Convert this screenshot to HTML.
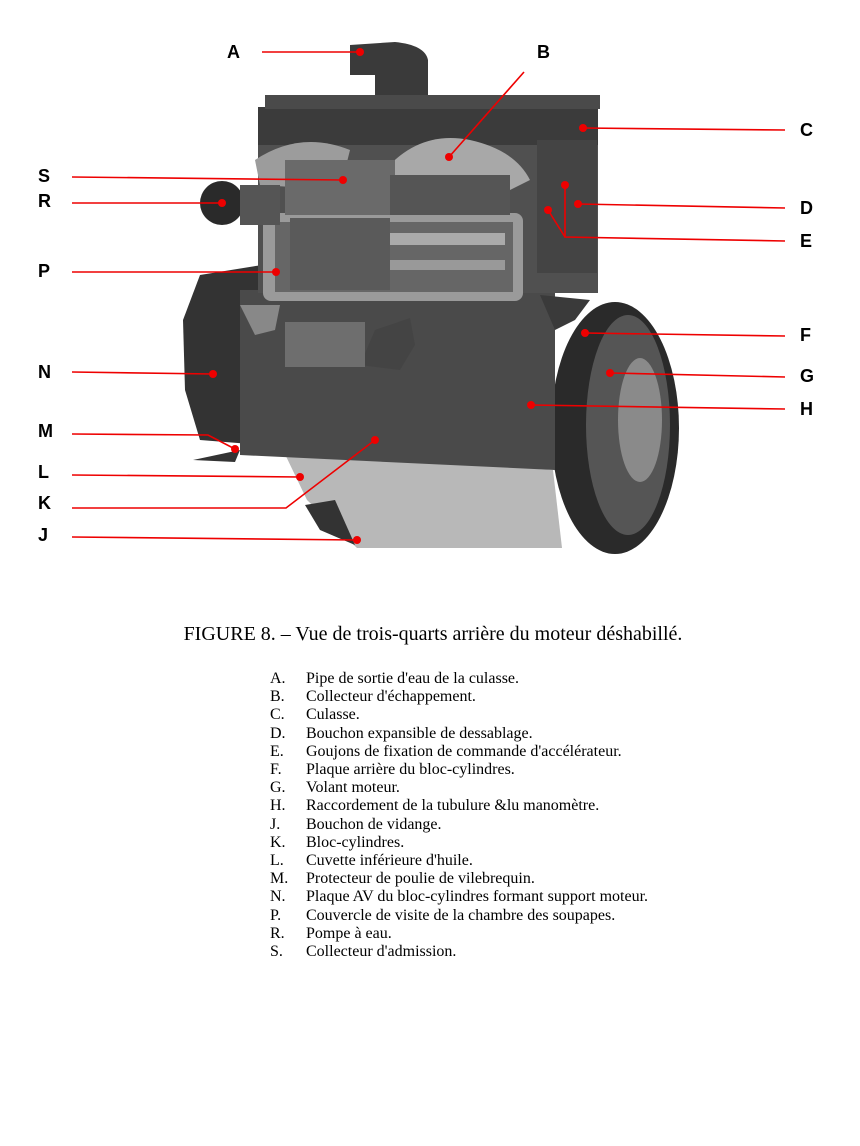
<!DOCTYPE html>
<html><head><meta charset="utf-8"><style>
body{margin:0;background:#fff;width:860px;height:1146px;position:relative;overflow:hidden}
.lbl{position:absolute;font:bold 18px "Liberation Sans",sans-serif;color:#000}
.cap{position:absolute;left:0;width:866px;top:623px;text-align:center;font:20px "Liberation Serif",serif;white-space:nowrap}
.leg{position:absolute;left:270px;top:670px;font:16px/18.2px "Liberation Serif",serif}
.leg div{white-space:nowrap}.leg span{display:inline-block;width:36px}
svg{position:absolute;left:0;top:0}
</style></head><body>
<svg width="860" height="1146">
<ellipse cx="615" cy="428" rx="64" ry="126" fill="#2a2a2a"/>
<ellipse cx="628" cy="425" rx="42" ry="110" fill="#555"/>
<ellipse cx="640" cy="420" rx="22" ry="62" fill="#8a8a8a"/>
<polygon points="283,450 553,470 562,548 357,548 307,500" fill="#b8b8b8"/>
<polygon points="183,320 200,275 262,265 262,445 200,440 185,390" fill="#333"/>
<polygon points="240,290 555,290 555,470 240,455" fill="#4a4a4a"/>
<polygon points="540,295 590,300 575,320 555,330" fill="#3a3a3a"/>
<rect x="258" y="107" width="340" height="45" fill="#3b3b3b"/>
<rect x="258" y="145" width="340" height="148" fill="#505050"/>
<rect x="537" y="140" width="60" height="133" fill="#444"/>
<rect x="263" y="213" width="260" height="88" rx="8" fill="#9a9a9a"/>
<rect x="275" y="222" width="238" height="70" fill="#666"/>
<rect x="380" y="233" width="125" height="12" fill="#aaa"/>
<rect x="380" y="260" width="125" height="10" fill="#999"/>
<rect x="290" y="218" width="100" height="72" fill="#5a5a5a"/>
<path d="M255,160 Q300,130 350,150 L340,190 L260,185 Z" fill="#9c9c9c"/>
<path d="M385,170 Q420,130 470,140 Q515,150 530,180 L500,195 L400,200 Z" fill="#a8a8a8"/>
<rect x="285" y="160" width="110" height="55" fill="#6a6a6a"/>
<rect x="390" y="175" width="120" height="40" fill="#555"/>
<circle cx="222" cy="203" r="22" fill="#2a2a2a"/>
<rect x="240" y="185" width="40" height="40" fill="#555"/>
<path d="M350,45 L395,42 Q425,45 428,60 L428,105 L375,105 L375,75 L350,75 Z" fill="#3a3a3a"/>
<rect x="265" y="95" width="335" height="14" fill="#4a4a4a"/>
<polygon points="375,330 410,318 415,345 400,370 360,365" fill="#444"/>
<rect x="285" y="322" width="80" height="45" fill="#6e6e6e"/>
<polygon points="240,305 280,305 275,330 255,335" fill="#888"/>
<polygon points="193,460 240,450 235,462" fill="#333"/>
<polygon points="305,505 335,500 355,545 320,530" fill="#333"/>
<g stroke="#e00" stroke-width="1.6" fill="none">
<line x1="262" y1="52" x2="360" y2="52"/>
<line x1="524" y1="72" x2="449" y2="157"/>
<line x1="785" y1="130" x2="583" y2="128"/>
<line x1="72" y1="177" x2="343" y2="180"/>
<line x1="72" y1="203" x2="222" y2="203"/>
<line x1="785" y1="208" x2="578" y2="204"/>
<polyline points="785,241 565,237 565,185"/>
<line x1="565" y1="237" x2="548" y2="210"/>
<line x1="72" y1="272" x2="276" y2="272"/>
<line x1="785" y1="336" x2="585" y2="333"/>
<line x1="72" y1="372" x2="213" y2="374"/>
<line x1="785" y1="377" x2="610" y2="373"/>
<line x1="785" y1="409" x2="531" y2="405"/>
<polyline points="72,434 208,435 235,449"/>
<line x1="72" y1="475" x2="300" y2="477"/>
<polyline points="72,508 286,508 375,440"/>
<line x1="72" y1="537" x2="357" y2="540"/>
</g>
<g fill="#e00">
<circle cx="360" cy="52" r="4"/><circle cx="449" cy="157" r="4"/><circle cx="583" cy="128" r="4"/>
<circle cx="343" cy="180" r="4"/><circle cx="222" cy="203" r="4"/><circle cx="578" cy="204" r="4"/>
<circle cx="565" cy="185" r="4"/><circle cx="548" cy="210" r="4"/><circle cx="276" cy="272" r="4"/>
<circle cx="585" cy="333" r="4"/><circle cx="213" cy="374" r="4"/><circle cx="610" cy="373" r="4"/>
<circle cx="531" cy="405" r="4"/><circle cx="235" cy="449" r="4"/><circle cx="300" cy="477" r="4"/>
<circle cx="375" cy="440" r="4"/><circle cx="357" cy="540" r="4"/>
</g>
</svg>
<div class="lbl" style="left:227px;top:42px">A</div>
<div class="lbl" style="left:537px;top:42px">B</div>
<div class="lbl" style="left:800px;top:120px">C</div>
<div class="lbl" style="left:38px;top:166px">S</div>
<div class="lbl" style="left:38px;top:191px">R</div>
<div class="lbl" style="left:800px;top:198px">D</div>
<div class="lbl" style="left:800px;top:231px">E</div>
<div class="lbl" style="left:38px;top:261px">P</div>
<div class="lbl" style="left:800px;top:325px">F</div>
<div class="lbl" style="left:38px;top:362px">N</div>
<div class="lbl" style="left:800px;top:366px">G</div>
<div class="lbl" style="left:800px;top:399px">H</div>
<div class="lbl" style="left:38px;top:421px">M</div>
<div class="lbl" style="left:38px;top:462px">L</div>
<div class="lbl" style="left:38px;top:493px">K</div>
<div class="lbl" style="left:38px;top:525px">J</div>
<div class="cap">FIGURE 8. – Vue de trois-quarts arrière du moteur déshabillé.</div>
<div class="leg">
<div><span>A.</span>Pipe de sortie d'eau de la culasse.</div>
<div><span>B.</span>Collecteur d'échappement.</div>
<div><span>C.</span>Culasse.</div>
<div><span>D.</span>Bouchon expansible de dessablage.</div>
<div><span>E.</span>Goujons de fixation de commande d'accélérateur.</div>
<div><span>F.</span>Plaque arrière du bloc-cylindres.</div>
<div><span>G.</span>Volant moteur.</div>
<div><span>H.</span>Raccordement de la tubulure &amp;lu manomètre.</div>
<div><span>J.</span>Bouchon de vidange.</div>
<div><span>K.</span>Bloc-cylindres.</div>
<div><span>L.</span>Cuvette inférieure d'huile.</div>
<div><span>M.</span>Protecteur de poulie de vilebrequin.</div>
<div><span>N.</span>Plaque AV du bloc-cylindres formant support moteur.</div>
<div><span>P.</span>Couvercle de visite de la chambre des soupapes.</div>
<div><span>R.</span>Pompe à eau.</div>
<div><span>S.</span>Collecteur d'admission.</div>
</div>
</body></html>
